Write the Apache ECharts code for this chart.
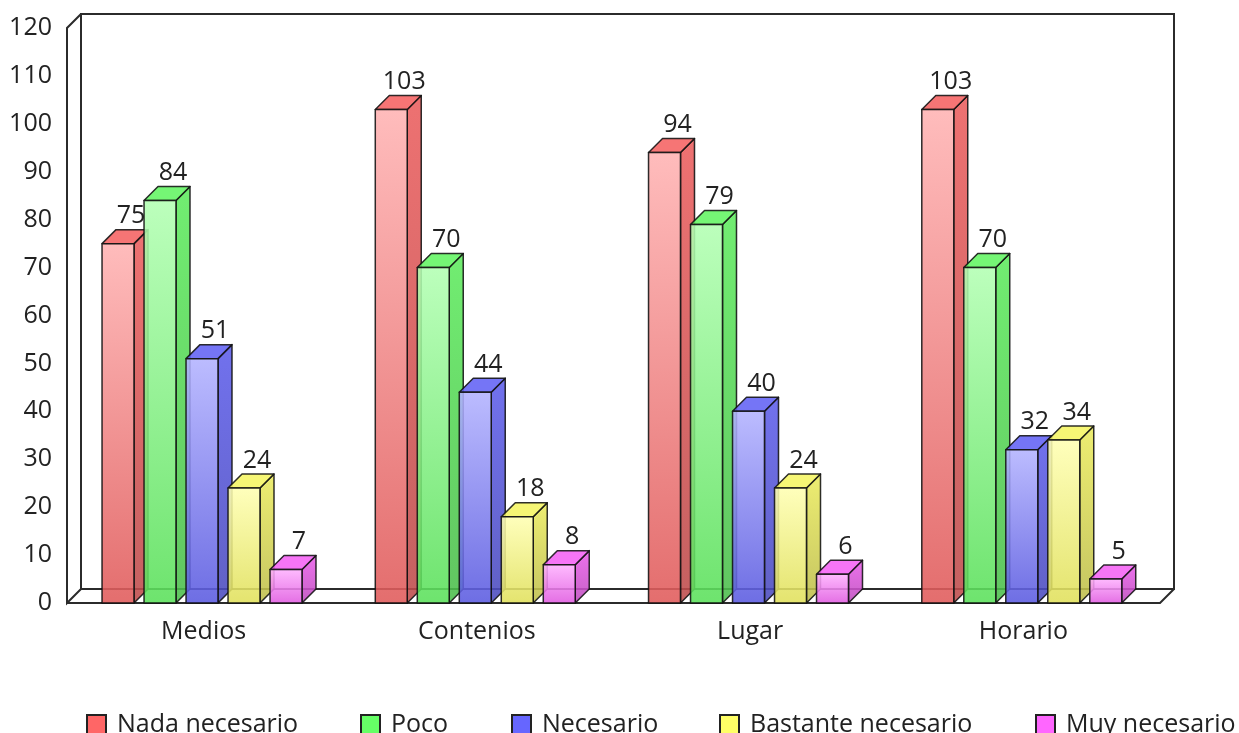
<!DOCTYPE html>
<html>
<head>
<meta charset="utf-8">
<script src="https://cdn.jsdelivr.net/npm/echarts@6/dist/echarts.min.js"></script>
<style>html,body{margin:0;padding:0;background:#fff}#c{width:1239px;height:733px}</style>
</head>
<body>
<div id="c"></div>
<script>
const categories = ['Medios', 'Contenios', 'Lugar', 'Horario'];
const seriesNames = ['Nada necesario', 'Poco', 'Necesario', 'Bastante necesario', 'Muy necesario'];
const nadaNecesario = [75, 103, 94, 103];
const poco = [84, 70, 79, 70];
const necesario = [51, 44, 40, 32];
const bastanteNecesario = [24, 18, 24, 34];
const muyNecesario = [7, 8, 6, 5];
const yMin = 0, yMax = 120, yStep = 10;

const seriesValues = [nadaNecesario, poco, necesario, bastanteNecesario, muyNecesario];
const baseColors = ['#ff6666', '#66ff66', '#6666ff', '#ffff66', '#ff66ff'];
const FONT = '"Open Sans", "DejaVu Sans", sans-serif';
const FS = 25;
const DEPTH = 14;

function hex(c){ return [parseInt(c.slice(1,3),16), parseInt(c.slice(3,5),16), parseInt(c.slice(5,7),16)]; }
function rgb(a){ return 'rgb(' + a.map(v => Math.round(Math.max(0, Math.min(255, v)))).join(',') + ')'; }
function mixWhite(c, t){ return rgb(hex(c).map(v => v + (255 - v) * t)); }
function shade(c, f){ return rgb(hex(c).map(v => v * f)); }

function makeRender(si){
  const col = baseColors[si];
  const frontFill = new echarts.graphic.LinearGradient(0,0,0,1,[
    {offset:0, color: mixWhite(col, 0.5)}, {offset:1, color: shade(col, 0.88)}]);
  const sideFill = new echarts.graphic.LinearGradient(0,0,0,1,[
    {offset:0, color: shade(col, 0.92)}, {offset:1, color: shade(col, 0.74)}]);
  const topFill = shade(col, 0.96);
  return function(params, api){
    const cat = api.value(0), val = api.value(1);
    const top = api.coord([cat, val]);
    const bot = api.coord([cat, 0]);
    const cw = api.size([1, 0])[0];
    const bw = cw * 0.117, step = cw * 0.1537;
    const x0 = top[0] - cw * 0.3718 + si * step;
    const x1 = x0 + bw;
    const yt = top[1], yb = bot[1], d = DEPTH;
    const st = {stroke: '#111', lineWidth: 1.5, lineJoin: 'round'};
    return {
      type: 'group',
      children: [
        {type: 'polygon', shape: {points: [[x1, yt], [x1 + d, yt - d], [x1 + d, yb - d], [x1, yb]]},
          style: Object.assign({fill: sideFill, opacity: 0.88}, st)},
        {type: 'polygon', shape: {points: [[x0, yt], [x0 + d, yt - d], [x1 + d, yt - d], [x1, yt]]},
          style: Object.assign({fill: topFill, opacity: 0.88}, st)},
        {type: 'rect', shape: {x: x0, y: yt, width: bw, height: yb - yt},
          style: Object.assign({fill: frontFill, opacity: 0.88}, st)},
        {type: 'text', x: x0 + bw / 2 + 13, y: yt - d - 1,
          style: {text: String(val), fill: '#222', font: FS + 'px ' + FONT, align: 'center', verticalAlign: 'bottom'}}
      ]
    };
  };
}

function frameRender(params, api){
  const cs = params.coordSys;
  const x = cs.x, y = cs.y, w = cs.width, h = cs.height, d = DEPTH;
  const st = {stroke: '#2b2b2b', lineWidth: 2, fill: null};
  return {
    type: 'group',
    children: [
      {type: 'polygon', shape: {points: [[x + d, y - d], [x + w + d, y - d], [x + w + d, y + h - d], [x + d, y + h - d]]}, style: st},
      {type: 'polyline', shape: {points: [[x + d, y - d], [x, y], [x, y + h], [x + d, y + h - d]]}, style: st},
      {type: 'polyline', shape: {points: [[x, y + h], [x + w, y + h], [x + w + d, y + h - d]]}, style: st}
    ]
  };
}

const legendLeft = [86, 360, 511, 719, 1035];

const series = [{
  type: 'custom', name: '__frame', silent: true, z: 1,
  renderItem: frameRender, data: [[0, 0]], encode: {x: 0, y: 1}
}];
seriesNames.forEach((n, si) => {
  series.push({
    type: 'custom', name: n, z: 2 + si,
    itemStyle: {color: baseColors[si]},
    renderItem: makeRender(si),
    encode: {x: 0, y: 1},
    data: seriesValues[si].map((v, i) => [i, v])
  });
});

const option = {
  animation: false,
  backgroundColor: '#ffffff',
  grid: {left: 67, right: 79, top: 28, bottom: 130},
  xAxis: {
    type: 'category', data: categories,
    axisLine: {show: false}, axisTick: {show: false}, splitLine: {show: false},
    axisLabel: {margin: 16, color: '#222', fontSize: FS, fontFamily: FONT}
  },
  yAxis: {
    type: 'value', min: yMin, max: yMax, interval: yStep,
    axisLine: {show: false}, axisTick: {show: false}, splitLine: {show: false},
    axisLabel: {margin: 15, color: '#222', fontSize: FS, fontFamily: FONT}
  },
  legend: seriesNames.map((n, i) => ({
    data: [{name: n, icon: 'rect'}],
    left: legendLeft[i], top: 712, padding: 0,
    itemWidth: 19, itemHeight: 19, selectedMode: false,
    itemStyle: {borderColor: '#222', borderWidth: 2},
    textStyle: {fontSize: FS, fontFamily: FONT, color: '#222', padding: [0, 0, 0, 6]}
  })),
  series: series
};

const chart = echarts.init(document.getElementById('c'), null, {renderer: 'canvas'});
chart.setOption(option);
</script>
</body>
</html>
